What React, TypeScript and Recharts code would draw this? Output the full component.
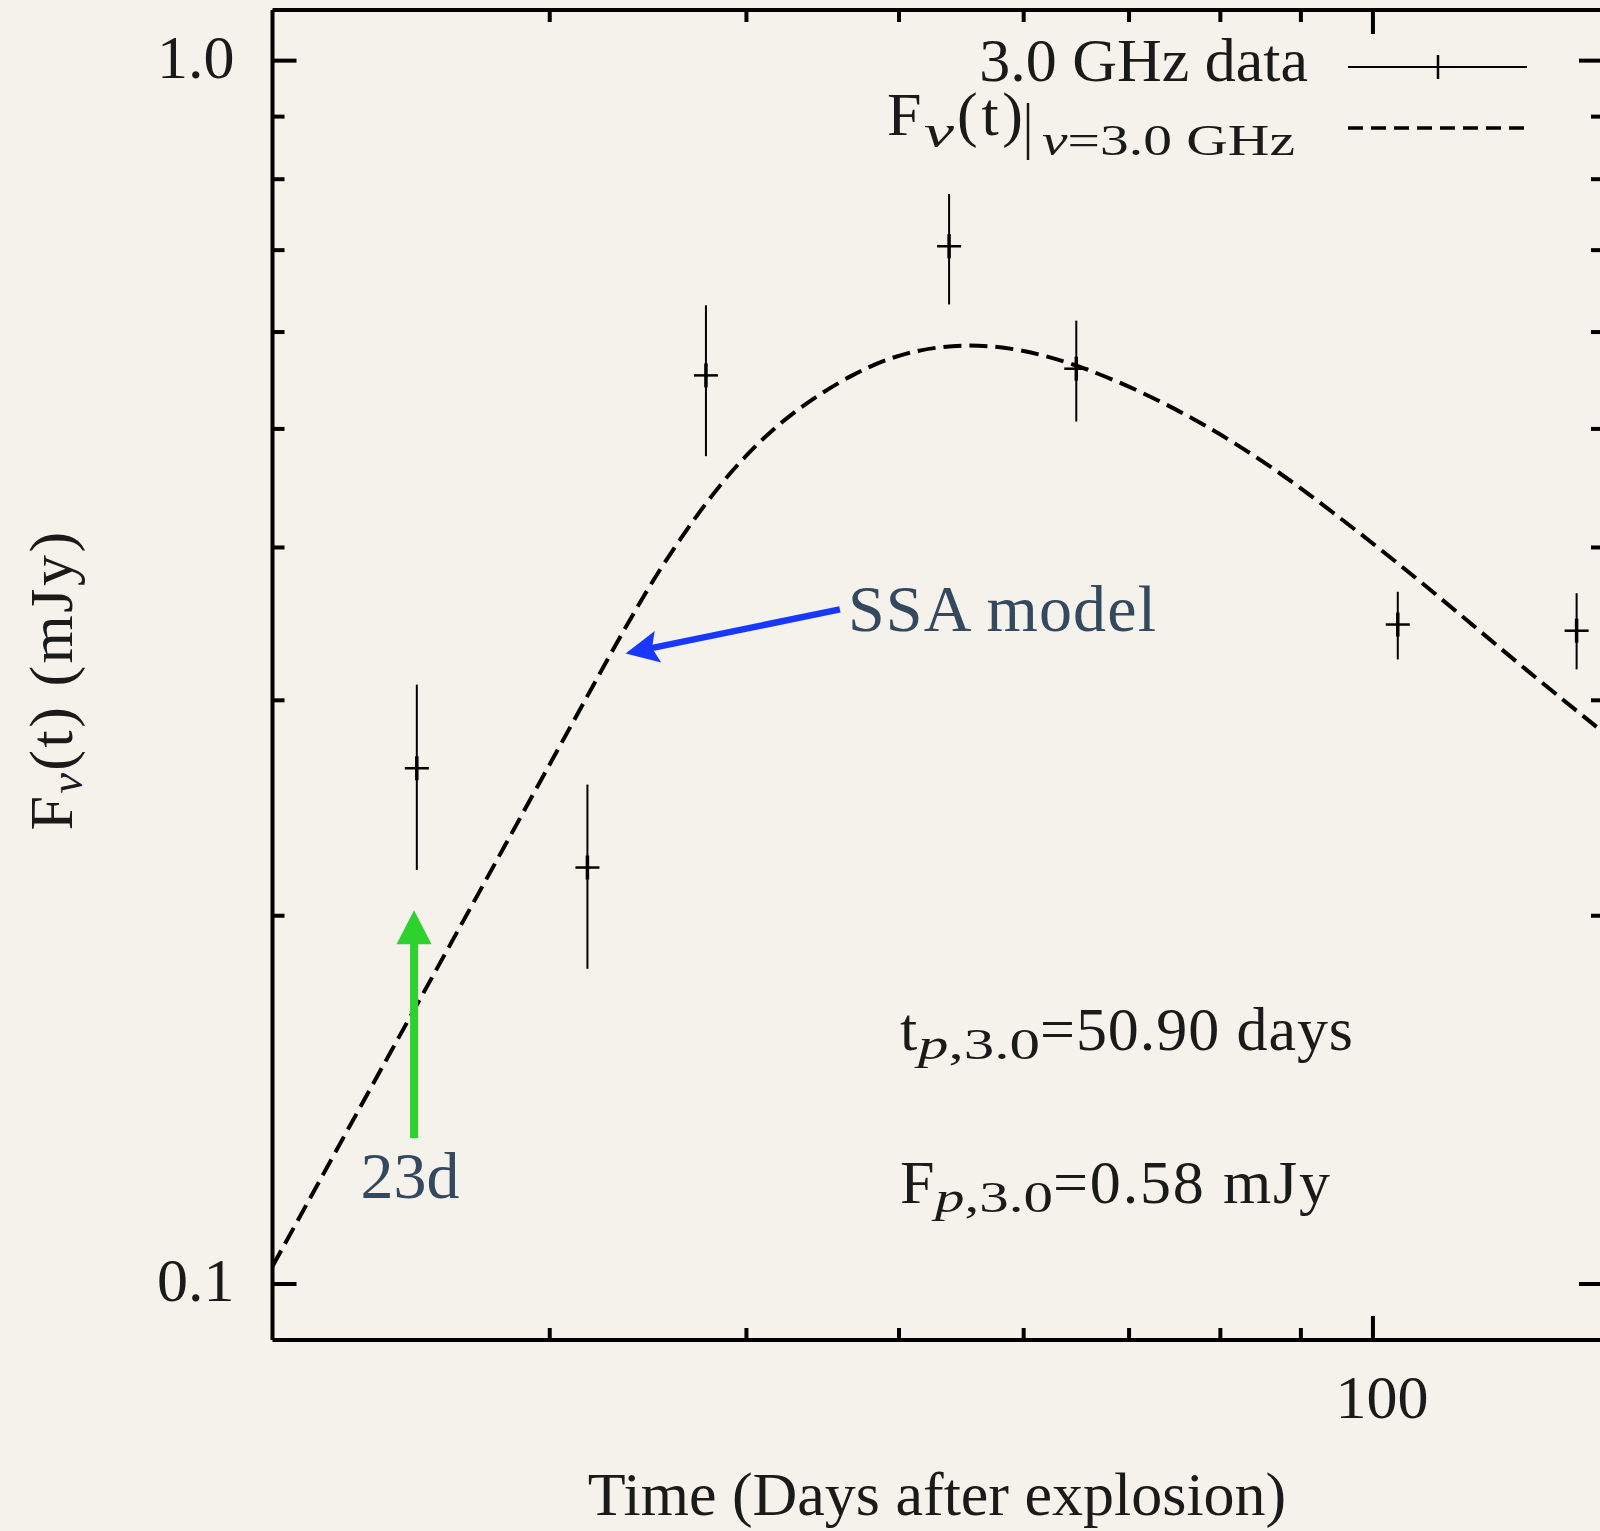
import React from 'react';
import { ComposedChart, Line, Scatter, ErrorBar, XAxis, YAxis, ReferenceLine } from 'recharts';

// 3.0 GHz observations (days, mJy) with lower / upper error limits
const obsDays = [24.7, 31.7, 37.7, 53.8, 64.8, 103.7, 134.7];
const obsFlux = [0.264, 0.219, 0.553, 0.705, 0.56, 0.346, 0.342];
const obsLow = [0.218, 0.181, 0.475, 0.632, 0.507, 0.324, 0.318];
const obsHigh = [0.309, 0.256, 0.631, 0.778, 0.613, 0.368, 0.367];

// SSA model curve
const modelDays = [20, 21.85, 23.5, 25.29, 27.21, 29.27, 31.49, 32.75, 34.12, 35.44, 37.46, 39.6, 42.67, 46.86, 50.47, 54.91, 59.7, 64.9, 71.3, 78.2, 85.9, 94.2, 103.4, 113.6, 124.7, 140];
const modelFlux = [0.1034, 0.1271, 0.1507, 0.1786, 0.2118, 0.2511, 0.2978, 0.3265, 0.3583, 0.3884, 0.4308, 0.471, 0.516, 0.5564, 0.5784, 0.5872, 0.5817, 0.5643, 0.5365, 0.5043, 0.4676, 0.428, 0.3897, 0.3527, 0.3187, 0.2826];

const xTicks = [30, 40, 50, 60, 70, 80, 90, 100];
const xLabelTicks = [100];
const yTicks = [0.1, 0.2, 0.3, 0.4, 0.5, 0.6, 0.7, 0.8, 0.9, 1.0];
const yLabelTicks = [0.1, 1.0];

// annotation arrows (data coords)
const greenArrow = [{ x: 24.6, y: 0.1316 }, { x: 24.6, y: 0.2021 }];
const blueArrow = [{ x: 45.86, y: 0.356 }, { x: 33.52, y: 0.3277 }];

const FONT = "'Liberation Serif', 'Times New Roman', serif";
const INK = '#1a1a1a';
const NOTE = '#34495e';
const BG = '#f5f2ec';

const obsData = obsDays.map((t, i) => ({
  t,
  f: obsFlux[i],
  err: [obsFlux[i] - obsLow[i], obsHigh[i] - obsFlux[i]],
}));
const modelData = modelDays.map((t, i) => ({ t, m: modelFlux[i] }));

const BottomTick = (props: any) => {
  const { x, y, payload } = props;
  const major = xLabelTicks.includes(payload.value);
  return (
    <g>
      <line x1={x} x2={x} y1={y} y2={y - (major ? 24 : 12)} stroke="#000" strokeWidth={4} />
      {major && (
        <text x={x + 9} y={y + 78} textAnchor="middle" fontFamily={FONT} fontSize={62} fill={INK}>
          {payload.value}
        </text>
      )}
    </g>
  );
};

const TopTick = (props: any) => {
  const { x, y, payload } = props;
  const major = xLabelTicks.includes(payload.value);
  return <line x1={x} x2={x} y1={y} y2={y + (major ? 24 : 12)} stroke="#000" strokeWidth={4} />;
};

const LeftTick = (props: any) => {
  const { x, y, payload } = props;
  const major = yLabelTicks.includes(payload.value);
  return (
    <g>
      <line x1={x} x2={x + (major ? 24 : 12)} y1={y} y2={y} stroke="#000" strokeWidth={4} />
      {major && (
        <text x={x - 38} y={y + 17} textAnchor="end" fontFamily={FONT} fontSize={62} fill={INK}>
          {Number(payload.value).toFixed(1)}
        </text>
      )}
    </g>
  );
};

const RightTick = (props: any) => {
  const { x, y, payload } = props;
  const major = yLabelTicks.includes(payload.value);
  return <line x1={x} x2={x - (major ? 24 : 12)} y1={y} y2={y} stroke="#000" strokeWidth={4} />;
};

const PlusMarker = (props: any) => {
  const { cx, cy } = props;
  return (
    <g>
      <line x1={cx - 12} x2={cx + 12} y1={cy} y2={cy} stroke="#000" strokeWidth={2.5} />
      <line x1={cx} x2={cx} y1={cy - 12} y2={cy + 12} stroke="#000" strokeWidth={3.5} />
    </g>
  );
};

const arrowShape = (color: string, shaft: number, headLen: number, half: number, notch: number) => (p: any) => {
  const { x1, y1, x2, y2 } = p;
  const dx = x2 - x1;
  const dy = y2 - y1;
  const len = Math.hypot(dx, dy) || 1;
  const ux = dx / len;
  const uy = dy / len;
  const bx = x2 - ux * headLen;
  const by = y2 - uy * headLen;
  const nx = bx + ux * notch;
  const ny = by + uy * notch;
  const px = -uy;
  const py = ux;
  const pts = [
    [x2, y2],
    [bx + px * half, by + py * half],
    [nx, ny],
    [bx - px * half, by - py * half],
  ]
    .map((q) => q.join(','))
    .join(' ');
  return (
    <g>
      <line x1={x1} y1={y1} x2={nx + ux * 2} y2={ny + uy * 2} stroke={color} strokeWidth={shaft} />
      <polygon points={pts} fill={color} />
    </g>
  );
};

export default function App() {
  return (
    <div
      style={{
        position: 'absolute',
        left: 0,
        top: 0,
        width: 1600,
        height: 1531,
        overflow: 'hidden',
        background: BG,
      }}
    >
      <ComposedChart width={1700} height={1531} margin={{ top: 0, right: 37, bottom: 131, left: 212.5 }}>
        <XAxis
          xAxisId="b"
          dataKey="t"
          type="number"
          scale="log"
          domain={[20, 140]}
          allowDataOverflow
          ticks={xTicks}
          interval={0}
          tick={BottomTick}
          tickLine={false}
          tickSize={0}
          tickMargin={0}
          axisLine={{ stroke: '#000', strokeWidth: 4 }}
          height={60}
        />
        <XAxis
          xAxisId="t"
          orientation="top"
          dataKey="t"
          type="number"
          scale="log"
          domain={[20, 140]}
          allowDataOverflow
          ticks={xTicks}
          interval={0}
          tick={TopTick}
          tickLine={false}
          tickSize={0}
          tickMargin={0}
          axisLine={{ stroke: '#000', strokeWidth: 4 }}
          height={10}
        />
        <YAxis
          yAxisId="l"
          type="number"
          scale="log"
          domain={[0.09, 1.1]}
          allowDataOverflow
          ticks={yTicks}
          interval={0}
          tick={LeftTick}
          tickLine={false}
          tickSize={0}
          tickMargin={0}
          axisLine={{ stroke: '#000', strokeWidth: 4 }}
          width={60}
        />
        <YAxis
          yAxisId="r"
          orientation="right"
          type="number"
          scale="log"
          domain={[0.09, 1.1]}
          allowDataOverflow
          ticks={yTicks}
          interval={0}
          tick={RightTick}
          tickLine={false}
          tickSize={0}
          tickMargin={0}
          axisLine={{ stroke: '#000', strokeWidth: 4 }}
          width={60}
        />
        <Line
          xAxisId="b"
          yAxisId="l"
          data={modelData}
          dataKey="m"
          type="basis"
          stroke="#000"
          strokeWidth={4}
          strokeDasharray="18 8"
          dot={false}
          activeDot={false}
          isAnimationActive={false}
        />
        <Scatter
          xAxisId="b"
          yAxisId="l"
          data={obsData}
          dataKey="f"
          shape={PlusMarker}
          isAnimationActive={false}
        >
          <ErrorBar dataKey="err" direction="y" width={0} stroke="#000" strokeWidth={2} isAnimationActive={false} />
        </Scatter>
        <ReferenceLine
          xAxisId="b"
          yAxisId="l"
          segment={greenArrow}
          ifOverflow="visible"
          shape={arrowShape('#2ed12e', 8, 34, 17.5, 0)}
        />
        <ReferenceLine
          xAxisId="b"
          yAxisId="l"
          segment={blueArrow}
          ifOverflow="visible"
          shape={arrowShape('#1838ff', 6.5, 33, 16, 6)}
        />
      </ComposedChart>

      <svg
        width={1600}
        height={1531}
        style={{ position: 'absolute', left: 0, top: 0, pointerEvents: 'none' }}
        fontFamily={FONT}
      >
        {/* legend */}
        <text x={1308} y={81} textAnchor="end" fontSize={62} fill={INK}>
          3.0 GHz data
        </text>
        <line x1={1348} x2={1527} y1={67} y2={67} stroke="#000" strokeWidth={2} />
        <line x1={1438} x2={1438} y1={55} y2={79} stroke="#000" strokeWidth={2.5} />

        <text x={887} y={135} fontSize={62} fill={INK}>F</text>
        <text x={924} y={147} fontSize={46} fontStyle="italic" fill={INK} textLength={30} lengthAdjust="spacingAndGlyphs">ν</text>
        <text x={957} y={135} fontSize={62} fill={INK} textLength={66} lengthAdjust="spacing">(t)</text>
        <line x1={1028} x2={1028} y1={103} y2={160} stroke={INK} strokeWidth={2.5} />
        <text x={1042} y={155} fontSize={44} fill={INK} textLength={253} lengthAdjust="spacingAndGlyphs">
          <tspan fontStyle="italic">ν</tspan>=3.0 GHz
        </text>
        <line x1={1348} x2={1527} y1={128} y2={128} stroke="#000" strokeWidth={3.5} strokeDasharray="15 8" />

        {/* axis titles */}
        <text x={937} y={1515} textAnchor="middle" fontSize={62} fill={INK}>
          Time (Days after explosion)
        </text>
        <text transform="translate(72,680) rotate(-90)" textAnchor="middle" fontSize={62} fill={INK} letterSpacing={2.5}>
          F
          <tspan fontSize={46} fontStyle="italic" dy={10}>ν</tspan>
          <tspan dy={-10}>(t) (mJy)</tspan>
        </text>

        {/* annotations */}
        <text x={848} y={631} fontSize={66} fill={NOTE} textLength={308} lengthAdjust="spacing">
          SSA model
        </text>
        <text x={410} y={1198} textAnchor="middle" fontSize={66} fill={NOTE}>
          23d
        </text>

        <text x={900} y={1050} fontSize={62} fill={INK}>t</text>
        <text x={918} y={1059} fontSize={44} fill={INK} textLength={122} lengthAdjust="spacingAndGlyphs">
          <tspan fontStyle="italic">p</tspan>,3.0
        </text>
        <text x={1040} y={1050} fontSize={62} fill={INK} textLength={313} lengthAdjust="spacing">
          =50.90 days
        </text>

        <text x={900} y={1203} fontSize={62} fill={INK}>F</text>
        <text x={935} y={1212} fontSize={44} fill={INK} textLength={118} lengthAdjust="spacingAndGlyphs">
          <tspan fontStyle="italic">p</tspan>,3.0
        </text>
        <text x={1053} y={1203} fontSize={62} fill={INK} textLength={277} lengthAdjust="spacing">
          =0.58 mJy
        </text>
      </svg>
    </div>
  );
}
